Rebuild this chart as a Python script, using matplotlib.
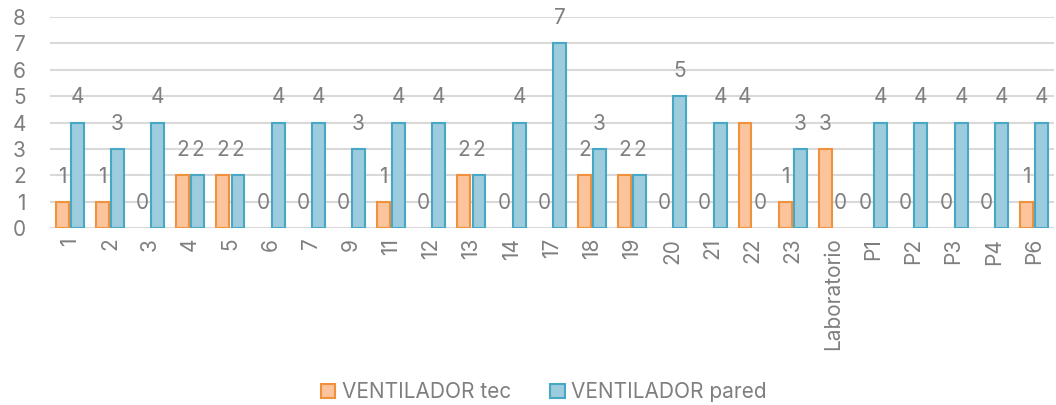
import numpy as np
import matplotlib
matplotlib.use("Agg")
import matplotlib.pyplot as plt

# --- Data ---
categories = ["1", "2", "3", "4", "5", "6", "7", "9", "11", "12", "13", "14", "17",
              "18", "19", "20", "21", "22", "23", "Laboratorio", "P1", "P2", "P3", "P4", "P6"]
vent_tec = [1, 1, 0, 2, 2, 0, 0, 0, 1, 0, 2, 0, 0, 2, 2, 0, 0, 4, 1, 3, 0, 0, 0, 0, 1]
vent_pared = [4, 3, 4, 2, 2, 4, 4, 3, 4, 4, 2, 4, 7, 3, 2, 5, 4, 0, 3, 0, 4, 4, 4, 4, 4]

plt.rcParams['font.family'] = ['Inter', 'DejaVu Sans']
grey = "#7F7F7F"

fig = plt.figure(figsize=(10.56, 4.05), dpi=100)
ax = fig.add_axes([0.047, 0.437, 0.951, 0.521])

x = np.arange(len(categories))
w = 0.32
off = 0.19
tec = np.array(vent_tec)
par = np.array(vent_pared)
# zero-height bars would show an edge line, so skip them
ax.bar((x - off)[tec > 0], tec[tec > 0], w, color="#FBC49C", edgecolor="#F0913E",
       linewidth=1.5, label="VENTILADOR tec", zorder=3)
ax.bar((x + off)[par > 0], par[par > 0], w, color="#9DCCDE", edgecolor="#46A8C4",
       linewidth=1.5, label="VENTILADOR pared", zorder=3)

# --- Data labels (Excel style, floating above bars) ---
for i in range(len(categories)):
    ax.text(x[i] - off, vent_tec[i] + 0.95, str(vent_tec[i]), ha="center", va="center",
            fontsize=15, color=grey)
    ax.text(x[i] + off, vent_pared[i] + 0.95, str(vent_pared[i]), ha="center", va="center",
            fontsize=15, color=grey)

ax.set_xlim(-0.5, len(categories) - 0.5)
ax.set_ylim(0, 8)
ax.set_yticks(range(0, 9))
ax.yaxis.grid(True, color="#D9D9D9", linewidth=1.5, zorder=0)
ax.set_xticks(x)
ax.set_xticklabels(categories, rotation=90)
ax.tick_params(axis="both", length=0, labelsize=15, labelcolor=grey)
ax.tick_params(axis="y", pad=17)
ax.tick_params(axis="x", pad=7)
for s in ax.spines.values():
    s.set_visible(False)
ax.set_axisbelow(True)

leg = fig.legend(loc="lower center", bbox_to_anchor=(0.515, -0.04), ncol=2, frameon=False,
                 fontsize=15, handlelength=0.7, handleheight=0.7, columnspacing=1.9,
                 handletextpad=0.3)
for t in leg.get_texts():
    t.set_color(grey)

fig.savefig("out.png", dpi=100)
